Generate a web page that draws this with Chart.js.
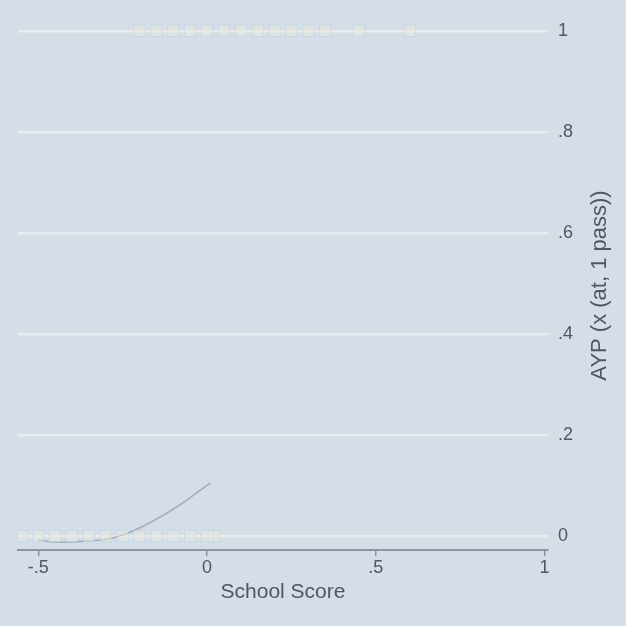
<!DOCTYPE html>
<html lang="en">
<head>
  <meta charset="UTF-8">
  <title>AYP vs School Score</title>
  <script src="https://cdn.jsdelivr.net/npm/chart.js"></script>
  <style>
    body {
      margin: 0;
      background: #d5dde6;
    }
    .wrap {
      width: 626px;
      height: 626px;
    }
  </style>
</head>
<body>
  <div class="wrap">
    <canvas id="chart" width="626" height="626"></canvas>
  </div>

  <script>
    // data
    const passX = [-0.2, -0.15, -0.1, -0.05, 0.0, 0.05, 0.1, 0.15, 0.2, 0.25, 0.3, 0.35, 0.45, 0.6];
    const failX = [-0.55, -0.5, -0.45, -0.4, -0.35, -0.3, -0.25, -0.2, -0.15, -0.1, -0.05, 0.0, 0.02];
    const fitX = [-0.5, -0.45, -0.35, -0.28, -0.2, -0.12, -0.06, -0.02, 0.01];
    const fitY = [-0.008, -0.012, -0.01, -0.004, 0.016, 0.045, 0.071, 0.091, 0.105];
    const xTicks = [-0.5, 0, 0.5, 1];
    const yTicks = [0, 0.2, 0.4, 0.6, 0.8, 1];

    const textColor = '#4f5861';
    const fontFam = '"Liberation Sans", Arial, sans-serif';
    const fmt = v => {
      if (v === 0 || v === 1) return String(v);
      return String(v).replace('0.', '.');
    };

    const bgPlugin = {
      id: 'bg',
      beforeDraw(chart) {
        const ctx = chart.ctx;
        ctx.save();
        ctx.fillStyle = '#d5dde6';
        ctx.fillRect(0, 0, chart.width, chart.height);
        ctx.restore();
      }
    };

    // y title reads bottom-to-top on the right side
    const yTitlePlugin = {
      id: 'yTitle',
      afterDraw(chart) {
        const ctx = chart.ctx;
        const a = chart.chartArea;
        ctx.save();
        ctx.translate(a.right + 52, (a.top + a.bottom) / 2 + 0);
        ctx.rotate(-Math.PI / 2);
        ctx.fillStyle = textColor;
        ctx.font = '22px ' + fontFam;
        ctx.textAlign = 'center';
        ctx.textBaseline = 'middle';
        ctx.fillText('AYP (x (at, 1 pass))', 0, 0);
        ctx.restore();
      }
    };

    new Chart(document.getElementById('chart'), {
      type: 'scatter',
      data: {
        datasets: [
          {
            label: 'pass',
            data: passX.map(x => ({ x: x, y: 1 })),
            pointStyle: 'rect',
            pointRadius: 8,
            backgroundColor: 'rgba(234,232,222,0.55)',
            borderColor: 'rgba(185,212,228,0.55)',
            borderWidth: 1,
            clip: false
          },
          {
            label: 'fail',
            data: failX.map(x => ({ x: x, y: 0 })),
            pointStyle: 'rect',
            pointRadius: 8,
            backgroundColor: 'rgba(234,232,222,0.55)',
            borderColor: 'rgba(185,212,228,0.55)',
            borderWidth: 1
          },
          {
            label: 'fit',
            type: 'line',
            data: fitX.map((x, i) => ({ x: x, y: fitY[i] })),
            borderColor: 'rgba(150,158,168,0.8)',
            borderWidth: 1.5,
            pointRadius: 0,
            tension: 0.4,
            fill: false
          }
        ]
      },
      options: {
        responsive: false,
        animation: false,
        layout: {
          padding: { left: 18, top: 0, right: 43, bottom: 21 }
        },
        plugins: {
          legend: { display: false },
          tooltip: { enabled: false }
        },
        scales: {
          x: {
            type: 'linear',
            min: -0.56,
            max: 1.01,
            afterBuildTicks: s => { s.ticks = xTicks.map(v => ({ value: v })); },
            border: { display: true, color: '#8d969f', width: 2 },
            grid: {
              drawOnChartArea: false,
              drawTicks: true,
              tickLength: 6,
              color: '#8d969f',
              lineWidth: 1.5
            },
            ticks: {
              callback: v => fmt(v),
              color: textColor,
              padding: 1,
              maxRotation: 0,
              font: { size: 18, family: fontFam }
            },
            title: {
              display: true,
              text: 'School Score',
              color: textColor,
              padding: { top: 0, bottom: 0 },
              font: { size: 21, family: fontFam }
            }
          },
          y: {
            type: 'linear',
            position: 'right',
            min: -0.028,
            max: 1.02,
            afterBuildTicks: s => { s.ticks = yTicks.map(v => ({ value: v })); },
            border: { display: false },
            grid: {
              drawTicks: false,
              color: '#e6ecf2',
              lineWidth: 2.5
            },
            ticks: {
              callback: v => fmt(v),
              color: textColor,
              padding: 10,
              font: { size: 18, family: fontFam }
            }
          }
        }
      },
      plugins: [bgPlugin, yTitlePlugin]
    });
  </script>
</body>
</html>
